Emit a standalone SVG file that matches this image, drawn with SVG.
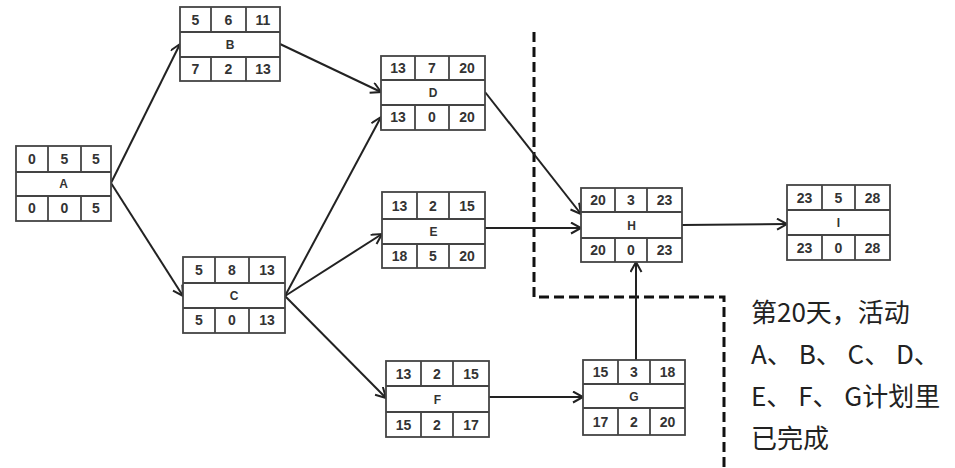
<svg xmlns="http://www.w3.org/2000/svg" width="955" height="468" viewBox="0 0 955 468">
<defs>
<marker id="arr" markerUnits="userSpaceOnUse" markerWidth="14" markerHeight="14" refX="11" refY="6" orient="auto">
<path d="M1,0.5 L11,6 L1,11.5" fill="none" stroke="#222" stroke-width="2"/>
</marker>
</defs>
<style>
.box{fill:#fff;stroke:#444;stroke-width:1.8}
.ln{stroke:#444;stroke-width:1.8}
.num{font-family:"Liberation Sans",Arial,sans-serif;font-weight:bold;font-size:14px;fill:#333;text-anchor:middle}
.lab{font-family:"Liberation Sans",Arial,sans-serif;font-weight:bold;font-size:12px;fill:#333;text-anchor:middle}
.edge{stroke:#222;stroke-width:2;fill:none;marker-end:url(#arr)}
.dash{stroke:#111;stroke-width:3;fill:none;stroke-dasharray:10 5}
.note{font-family:"Noto Sans CJK SC","Noto Sans",sans-serif;font-size:26px;fill:#222}
</style>
<rect width="955" height="468" fill="#fff"/>

<g id="cutline">
<path class="dash" d="M534,32 V297 H724 V468"/>
</g>

<g id="connectors">
<line class="edge" x1="111" y1="183" x2="180" y2="44"/>
<line class="edge" x1="111" y1="183" x2="183" y2="296"/>
<line class="edge" x1="280" y1="44" x2="381" y2="92"/>
<line class="edge" x1="285" y1="296" x2="381" y2="117"/>
<line class="edge" x1="285" y1="296" x2="382" y2="234"/>
<line class="edge" x1="285" y1="296" x2="386" y2="398"/>
<line class="edge" x1="485" y1="92" x2="581" y2="214"/>
<line class="edge" x1="485" y1="228" x2="581" y2="228"/>
<line class="edge" x1="489" y1="397" x2="583" y2="397"/>
<line class="edge" x1="636" y1="360" x2="636" y2="262"/>
<line class="edge" x1="682" y1="225" x2="787" y2="224"/>
</g>

<g id="A">
<rect class="box" x="16" y="146" width="95" height="75"/>
<line class="ln" x1="16" y1="172" x2="111" y2="172"/><line class="ln" x1="16" y1="196" x2="111" y2="196"/>
<line class="ln" x1="48" y1="146" x2="48" y2="172"/><line class="ln" x1="81" y1="146" x2="81" y2="172"/>
<line class="ln" x1="48" y1="196" x2="48" y2="221"/><line class="ln" x1="81" y1="196" x2="81" y2="221"/>
<text class="num" x="32" y="164">0</text><text class="num" x="64.5" y="164">5</text><text class="num" x="96" y="164">5</text>
<text class="lab" x="63.5" y="188">A</text>
<text class="num" x="32" y="213">0</text><text class="num" x="64.5" y="213">0</text><text class="num" x="96" y="213">5</text>
</g>

<g id="B">
<rect class="box" x="180" y="7" width="100" height="74"/>
<line class="ln" x1="180" y1="32" x2="280" y2="32"/><line class="ln" x1="180" y1="57" x2="280" y2="57"/>
<line class="ln" x1="211" y1="7" x2="211" y2="32"/><line class="ln" x1="246" y1="7" x2="246" y2="32"/>
<line class="ln" x1="211" y1="57" x2="211" y2="81"/><line class="ln" x1="246" y1="57" x2="246" y2="81"/>
<text class="num" x="195.5" y="24.5">5</text><text class="num" x="228.5" y="24.5">6</text><text class="num" x="263" y="24.5">11</text>
<text class="lab" x="230" y="49">B</text>
<text class="num" x="195.5" y="74">7</text><text class="num" x="228.5" y="74">2</text><text class="num" x="263" y="74">13</text>
</g>

<g id="C">
<rect class="box" x="183" y="257" width="102" height="76"/>
<line class="ln" x1="183" y1="283" x2="285" y2="283"/><line class="ln" x1="183" y1="308" x2="285" y2="308"/>
<line class="ln" x1="215" y1="257" x2="215" y2="283"/><line class="ln" x1="249" y1="257" x2="249" y2="283"/>
<line class="ln" x1="215" y1="308" x2="215" y2="333"/><line class="ln" x1="249" y1="308" x2="249" y2="333"/>
<text class="num" x="199" y="275">5</text><text class="num" x="232" y="275">8</text><text class="num" x="267" y="275">13</text>
<text class="lab" x="234" y="300">C</text>
<text class="num" x="199" y="325">5</text><text class="num" x="232" y="325">0</text><text class="num" x="267" y="325">13</text>
</g>

<g id="D">
<rect class="box" x="381" y="56" width="104" height="74"/>
<line class="ln" x1="381" y1="80" x2="485" y2="80"/><line class="ln" x1="381" y1="105" x2="485" y2="105"/>
<line class="ln" x1="415" y1="56" x2="415" y2="80"/><line class="ln" x1="449" y1="56" x2="449" y2="80"/>
<line class="ln" x1="415" y1="105" x2="415" y2="130"/><line class="ln" x1="449" y1="105" x2="449" y2="130"/>
<text class="num" x="398" y="73">13</text><text class="num" x="432" y="73">7</text><text class="num" x="467" y="73">20</text>
<text class="lab" x="433" y="97">D</text>
<text class="num" x="398" y="122">13</text><text class="num" x="432" y="122">0</text><text class="num" x="467" y="122">20</text>
</g>

<g id="E">
<rect class="box" x="382" y="192" width="103" height="76"/>
<line class="ln" x1="382" y1="219" x2="485" y2="219"/><line class="ln" x1="382" y1="244" x2="485" y2="244"/>
<line class="ln" x1="417" y1="192" x2="417" y2="219"/><line class="ln" x1="449" y1="192" x2="449" y2="219"/>
<line class="ln" x1="417" y1="244" x2="417" y2="268"/><line class="ln" x1="449" y1="244" x2="449" y2="268"/>
<text class="num" x="399.5" y="210.5">13</text><text class="num" x="433" y="210.5">2</text><text class="num" x="467" y="210.5">15</text>
<text class="lab" x="433.5" y="236">E</text>
<text class="num" x="399.5" y="261">18</text><text class="num" x="433" y="261">5</text><text class="num" x="467" y="261">20</text>
</g>

<g id="F">
<rect class="box" x="386" y="361" width="103" height="76"/>
<line class="ln" x1="386" y1="386" x2="489" y2="386"/><line class="ln" x1="386" y1="412" x2="489" y2="412"/>
<line class="ln" x1="421" y1="361" x2="421" y2="386"/><line class="ln" x1="453" y1="361" x2="453" y2="386"/>
<line class="ln" x1="421" y1="412" x2="421" y2="437"/><line class="ln" x1="453" y1="412" x2="453" y2="437"/>
<text class="num" x="403.5" y="378.5">13</text><text class="num" x="437" y="378.5">2</text><text class="num" x="471" y="378.5">15</text>
<text class="lab" x="437.5" y="404">F</text>
<text class="num" x="403.5" y="429.5">15</text><text class="num" x="437" y="429.5">2</text><text class="num" x="471" y="429.5">17</text>
</g>

<g id="G">
<rect class="box" x="583" y="360" width="102" height="75"/>
<line class="ln" x1="583" y1="384" x2="685" y2="384"/><line class="ln" x1="583" y1="408" x2="685" y2="408"/>
<line class="ln" x1="618" y1="360" x2="618" y2="384"/><line class="ln" x1="650" y1="360" x2="650" y2="384"/>
<line class="ln" x1="618" y1="408" x2="618" y2="435"/><line class="ln" x1="650" y1="408" x2="650" y2="435"/>
<text class="num" x="600.5" y="377">15</text><text class="num" x="634" y="377">3</text><text class="num" x="667.5" y="377">18</text>
<text class="lab" x="634" y="400.5">G</text>
<text class="num" x="600.5" y="426.5">17</text><text class="num" x="634" y="426.5">2</text><text class="num" x="667.5" y="426.5">20</text>
</g>

<g id="H">
<rect class="box" x="581" y="188" width="101" height="74"/>
<line class="ln" x1="581" y1="212" x2="682" y2="212"/><line class="ln" x1="581" y1="238" x2="682" y2="238"/>
<line class="ln" x1="615" y1="188" x2="615" y2="212"/><line class="ln" x1="647" y1="188" x2="647" y2="212"/>
<line class="ln" x1="615" y1="238" x2="615" y2="262"/><line class="ln" x1="647" y1="238" x2="647" y2="262"/>
<text class="num" x="598" y="205">20</text><text class="num" x="631" y="205">3</text><text class="num" x="664.5" y="205">23</text>
<text class="lab" x="631.5" y="229.5">H</text>
<text class="num" x="598" y="255">20</text><text class="num" x="631" y="255">0</text><text class="num" x="664.5" y="255">23</text>
</g>

<g id="I">
<rect class="box" x="787" y="185" width="103" height="75"/>
<line class="ln" x1="787" y1="210" x2="890" y2="210"/><line class="ln" x1="787" y1="235" x2="890" y2="235"/>
<line class="ln" x1="822" y1="185" x2="822" y2="210"/><line class="ln" x1="855" y1="185" x2="855" y2="210"/>
<line class="ln" x1="822" y1="235" x2="822" y2="260"/><line class="ln" x1="855" y1="235" x2="855" y2="260"/>
<text class="num" x="804.5" y="202.5">23</text><text class="num" x="838.5" y="202.5">5</text><text class="num" x="872.5" y="202.5">28</text>
<text class="lab" x="838.5" y="227">I</text>
<text class="num" x="804.5" y="252.5">23</text><text class="num" x="838.5" y="252.5">0</text><text class="num" x="872.5" y="252.5">28</text>
</g>

<g id="note">
<text class="note" x="751" y="322">第20天，活动</text>
<text class="note" x="751" y="364">A、 B、 C、 D、</text>
<text class="note" x="751" y="406">E、 F、 G计划里</text>
<text class="note" x="751" y="448">已完成</text>
</g>
</svg>
